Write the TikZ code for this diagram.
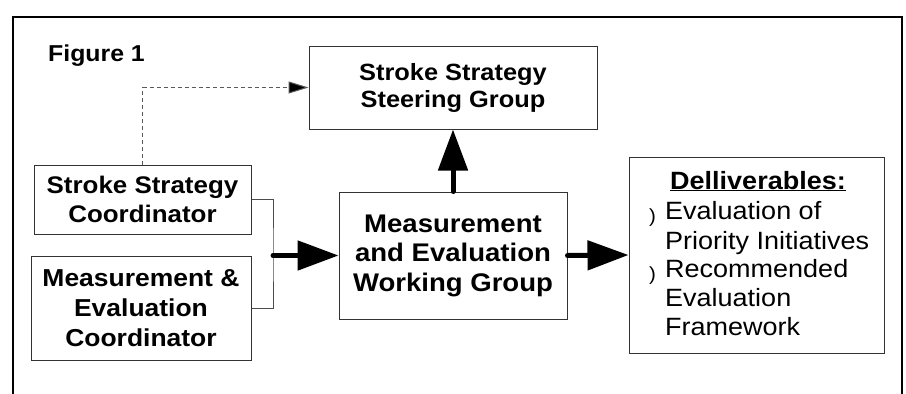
\documentclass[tikz,border=0pt]{standalone}
\usepackage{fontspec}
\setmainfont{Liberation Sans}[FakeStretch=1.08]
\usetikzlibrary{arrows.meta}

\begin{document}
\begin{tikzpicture}[x=1pt,y=-1pt,
  box/.style={draw=black!80, line width=1pt, inner sep=0pt, align=center,
              font=\fontsize{24}{29.5}\selectfont\bfseries},
  bigarrow/.style={line width=5pt, line cap=round,
                   -{Triangle[length=41pt,width=29pt]}},
  linkline/.style={draw=black!70, line width=1pt},
  itemtext/.style={anchor=base west, inner sep=0pt, font=\fontsize{25}{29}\selectfont},
  bulletmark/.style={anchor=base west, inner sep=0pt, font=\fontsize{19}{19}\selectfont}
]
\useasboundingbox (0,0) rectangle (906,394);

% frame around the figure
\draw[line width=2pt] (12.5,394) -- (12.5,17) -- (902,17) -- (902,394);

\node[anchor=base west, inner sep=0pt, font=\fontsize{23}{25}\selectfont\bfseries]
  (figlabel) at (48,61) {Figure 1};

% boxes
\node[box, minimum width=288pt, minimum height=83pt, font=\fontsize{23.5}{27}\selectfont\bfseries]
  (steer) at (453,87.5) {Stroke Strategy\\Steering Group};
\node[box, minimum width=217pt, minimum height=69pt]
  (coordA) at (142.5,199.5) {Stroke Strategy\\Coordinator};
\node[box, minimum width=220pt, minimum height=104pt, font=\fontsize{24.5}{30}\selectfont\bfseries]
  (coordB) at (141,308) {Measurement \&\\Evaluation\\Coordinator};
\node[box, minimum width=228pt, minimum height=127pt, font=\fontsize{25.5}{29.5}\selectfont\bfseries]
  (wg) at (453,255.5) {Measurement\\and Evaluation\\Working Group};
\node[box, minimum width=255pt, minimum height=196pt]
  (deliv) at (756.5,255) {};

% deliverables list
\node[anchor=base, inner sep=0pt, font=\fontsize{25}{29}\selectfont\bfseries]
  (delivtitle) at (758,189) {\underline{Delliverables:}};
\node[bulletmark] (b1) at (649,222) {)};
\node[bulletmark] (b2) at (649,280) {)};
\node[itemtext] (i1) at (665,219.5) {Evaluation of};
\node[itemtext] (i2) at (665,249) {Priority Initiatives};
\node[itemtext] (i3) at (665,277) {Recommended};
\node[itemtext] (i4) at (665,306) {Evaluation};
\node[itemtext] (i5) at (665,335) {Framework};

% connectors
\draw[dashed, draw=black!65, line width=1pt, dash pattern=on 4pt off 3pt,
      -{Triangle[length=20pt,width=12pt,fill=black]}]
  (coordA.north) |- (steer.west);

\coordinate (junc) at (273,255.5);
\draw[linkline] (coordA.east) -| (junc) |- (coordB.east);

\draw[bigarrow] (junc) -- (wg.west);
\draw[bigarrow] (wg.north) -- (steer.south);
\draw[bigarrow] (wg.east) -- (deliv.west);
\end{tikzpicture}
\end{document}
